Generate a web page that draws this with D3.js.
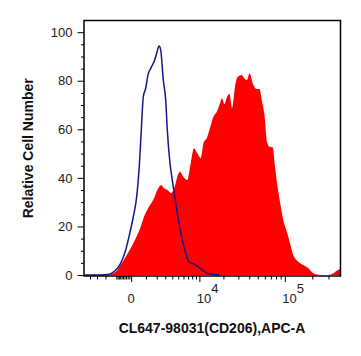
<!DOCTYPE html>
<html>
<head>
<meta charset="utf-8">
<script src="https://cdn.jsdelivr.net/npm/d3@7"></script>
<style>
  html, body { margin: 0; padding: 0; background: #fff; }
  svg { display: block; }
  text { font-family: "Liberation Sans", Arial, sans-serif; }
</style>
</head>
<body>
<div id="chart"></div>
<script>
// ---- data (fluorescence value, % of max) ----
const redX = [-5000, -2054, -1647, -1050, -665, -324, -24, 271, 604, 848, 1257, 1721, 2060, 2510, 2840, 3274, 3851, 4388, 4831, 5322, 5969, 6827, 7626, 8469, 9385, 10410, 11321, 12444, 13699, 15059, 16586, 18193, 19235, 20610, 22073, 23632, 25290, 27416, 29318, 32787, 35777, 37715, 40275, 44138, 48596, 52261, 55748, 59463, 63416, 67624, 73400, 77843, 82553, 88432, 96176, 106452, 113994, 123914, 140578, 159460, 180844, 205085, 242595, 298620, 338400, 368400, 400000];
const redY = [0, 0, 0.2, 1.4, 4.1, 7.5, 11.0, 15.1, 19.9, 24.0, 28.1, 31.6, 35.0, 37.1, 35.7, 35.0, 33.7, 36.4, 40.5, 42.5, 40.5, 39.1, 46.0, 52.2, 50.1, 48.1, 54.4, 56.3, 60.5, 65.1, 67.1, 70.7, 72.8, 70.4, 73.3, 74.5, 68.8, 77.5, 81.5, 82.4, 80.7, 80.3, 83.1, 78.7, 76.6, 76.6, 71.6, 65.9, 54.8, 52.8, 52.5, 44.6, 37.1, 30.1, 22.7, 17.2, 13.1, 8.2, 5.5, 4.1, 2.8, 0.7, 0, 0, 0.7, 1.8, 2.4];

const blueX = [-5000, -2623, -1745, -1192, -665, -324, -122, 125, 334, 486, 647, 794, 981, 1171, 1408, 1721, 1996, 2246, 2439, 2752, 3059, 3274, 3657, 4004, 4556, 5137, 5767, 6474, 7218, 8026, 9385, 10924, 12664, 15363, 18000];
const blueY = [0, 0, 0.2, 1.4, 4.8, 10.3, 15.8, 24.0, 32.3, 43.2, 59.7, 73.4, 76.9, 82.4, 85.1, 87.8, 91.3, 94.3, 92.7, 80.3, 72.1, 59.7, 46.0, 39.1, 29.5, 21.3, 14.4, 8.9, 5.5, 4.8, 3.7, 2.1, 0.7, 0.2, 0];

// ---- axes ----
const yTicks = [0, 20, 40, 60, 80, 100];
const yMinorTicks = [5, 10, 15, 25, 30, 35, 45, 50, 55, 65, 70, 75, 85, 90, 95];
const xMajorTicks = [0, 10000, 100000];
const xLabelBase = ["0", "10", "10"];
const xLabelExp = ["", "4", "5"];
const xMinorTicks = [-4000, -3000, -2000, -1000, -900, -800, -700, -600, -500, -400, -300, -200, -100,
  1000, 2000, 3000, 4000, 5000, 6000, 7000, 8000, 9000,
  20000, 30000, 40000, 50000, 60000, 70000, 80000, 90000, 200000, 300000];
const xTitle = "CL647-98031(CD206),APC-A";
const yTitle = "Relative Cell Number";

const W = 361, H = 356;
const L = 84, R = 340, T = 20.5, B = 276;

const svg = d3.select("#chart").append("svg").attr("width", W).attr("height", H);

const x = d3.scaleSymlog().constant(2250).domain([-5000, 400000]).range([L, R]);
const y = d3.scaleLinear().domain([-0.4, 104.8]).range([B, T]);

svg.append("defs").append("clipPath").attr("id", "clip")
  .append("rect").attr("x", L).attr("y", T).attr("width", R - L).attr("height", B - T);

const red = redX.map((v, i) => [v, redY[i]]);
const blue = blueX.map((v, i) => [v, blueY[i]]);

const g = svg.append("g").attr("clip-path", "url(#clip)");

g.append("path")
  .datum(red)
  .attr("fill", "#ff0000")
  .attr("d", d3.area().x(d => x(d[0])).y0(y(0)).y1(d => y(d[1])).curve(d3.curveMonotoneX));

g.append("path")
  .datum(blue)
  .attr("fill", "none")
  .attr("stroke", "#15158a")
  .attr("stroke-width", 1.5)
  .attr("stroke-linejoin", "round")
  .attr("d", d3.line().x(d => x(d[0])).y(d => y(d[1])).curve(d3.curveMonotoneX));

// frame
svg.append("rect")
  .attr("x", L).attr("y", T).attr("width", R - L + 0.5).attr("height", B - T)
  .attr("fill", "none").attr("stroke", "#000").attr("stroke-width", 1.5);

// y axis
const yMinorAxis = svg.append("g").attr("transform", `translate(${L},0)`)
  .call(d3.axisLeft(y).tickValues(yMinorTicks).tickSize(3).tickFormat(""));
yMinorAxis.select(".domain").remove();
const yAxis = svg.append("g").attr("transform", `translate(${L},0)`)
  .call(d3.axisLeft(y).tickValues(yTicks).tickSize(6.5).tickPadding(5));
yAxis.select(".domain").remove();
yAxis.selectAll("text").attr("font-size", 13).attr("fill", "#222")
  .attr("font-family", "'Liberation Sans', Arial, sans-serif");

// x axis
const xMinorAxis = svg.append("g").attr("transform", `translate(0,${B})`)
  .call(d3.axisBottom(x).tickValues(xMinorTicks).tickSize(3.5).tickFormat(""));
xMinorAxis.select(".domain").remove();
const xAxis = svg.append("g").attr("transform", `translate(0,${B})`)
  .call(d3.axisBottom(x).tickValues(xMajorTicks).tickSize(6).tickFormat(""));
xAxis.select(".domain").remove();

const xl = svg.append("g");
xMajorTicks.forEach((v, i) => {
  const t = xl.append("text")
    .attr("y", 302.5)
    .attr("font-size", 13)
    .attr("fill", "#222");
  if (xLabelExp[i] === "") {
    t.attr("x", x(v)).attr("text-anchor", "middle").text(xLabelBase[i]);
  } else {
    t.attr("x", x(v) - 2.6).attr("text-anchor", "start");
    t.append("tspan").text(xLabelBase[i]);
    t.append("tspan").attr("dy", -9.3).text(xLabelExp[i]);
  }
});

// titles
svg.append("text")
  .attr("x", (L + R) / 2).attr("y", 332.5)
  .attr("text-anchor", "middle")
  .attr("font-size", 14).attr("font-weight", "bold").attr("fill", "#111")
  .text(xTitle);

svg.append("text")
  .attr("transform", `translate(33,${(T + B) / 2}) rotate(-90)`)
  .attr("text-anchor", "middle")
  .attr("font-size", 14).attr("font-weight", "bold").attr("fill", "#111")
  .text(yTitle);
</script>
</body>
</html>
